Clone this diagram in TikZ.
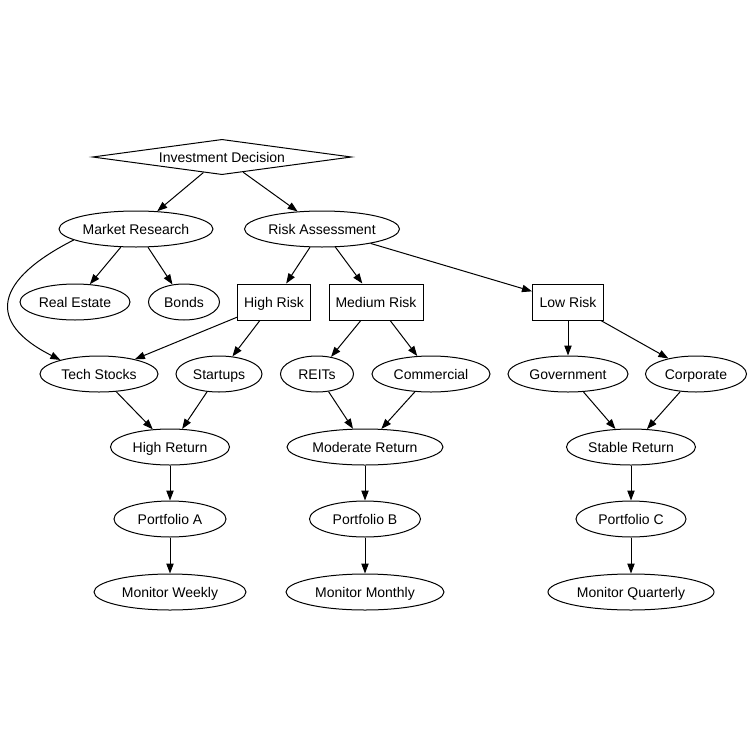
\documentclass[tikz,border=0pt]{standalone}
\usepackage{fontspec}
\setmainfont{Liberation Sans}
\usetikzlibrary{shapes.geometric}
\usetikzlibrary{arrows.meta}

\tikzset{
  oval/.style={ellipse,draw,minimum width=#1*0.75pt,minimum height=27pt,inner sep=0pt},
  box/.style={rectangle,draw,minimum width=#1*0.75pt,minimum height=27pt,inner sep=0pt},
  choice/.style={diamond,draw,aspect=7,minimum width=#1*0.75pt,minimum height=26.5pt,inner sep=0pt},
  link/.style={-{Triangle[length=7.5pt,width=5.5pt]}}
}

\begin{document}
\begin{tikzpicture}[x=0.75pt,y=-0.75pt,line width=0.75pt,
        every node/.style={text height=8.4pt,text depth=0pt},
        font=\fontsize{10.5pt}{12pt}\selectfont]
    \useasboundingbox (0,0) rectangle (750,750);
    \node[choice=259] (dec) at (222,157) {Investment Decision};
    \node[oval=154] (mr) at (136,229) {Market Research};
    \node[oval=155] (ra) at (322,229) {Risk Assessment};
    \node[oval=110] (re) at (75,302) {Real Estate};
    \node[oval=71] (bo) at (184,302) {Bonds};
    \node[box=73] (hr) at (274,302) {High Risk};
    \node[box=94] (mdr) at (376,302) {Medium Risk};
    \node[box=71] (lr) at (568,302) {Low Risk};
    \node[oval=118] (ts) at (99,374) {Tech Stocks};
    \node[oval=86] (su) at (219,374) {Startups};
    \node[oval=73] (reit) at (317,374) {REITs};
    \node[oval=118] (com) at (431,374) {Commercial};
    \node[oval=120] (gov) at (568,374) {Government};
    \node[oval=101] (cor) at (696,374) {Corporate};
    \node[oval=119] (hret) at (170,447) {High Return};
    \node[oval=156] (mret) at (365,447) {Moderate Return};
    \node[oval=129] (sret) at (631,447) {Stable Return};
    \node[oval=112] (pa) at (170,519) {Portfolio A};
    \node[oval=111] (pb) at (365,519) {Portfolio B};
    \node[oval=110] (pc) at (631,519) {Portfolio C};
    \node[oval=152] (mw) at (170,592) {Monitor Weekly};
    \node[oval=158] (mm) at (365,592) {Monitor Monthly};
    \node[oval=166] (mq) at (631,592) {Monitor Quarterly};
    \foreach \a/\b in {dec/mr,dec/ra,mr/re,mr/bo,ra/hr,ra/mdr,ra/lr,hr/ts,hr/su,
        mdr/reit,mdr/com,lr/gov,lr/cor,ts/hret,su/hret,reit/mret,com/mret,
        gov/sret,cor/sret,hret/pa,mret/pb,sret/pc,pa/mw,pb/mm,pc/mq}
        \draw[link] (\a) -- (\b);
    \draw[link] (mr.190) .. controls (-5,280) and (-15,322) .. (ts.160);
\end{tikzpicture}
\end{document}
